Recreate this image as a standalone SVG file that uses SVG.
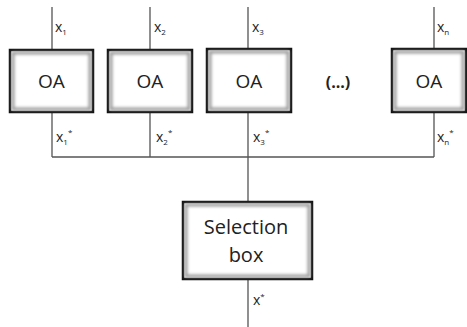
<svg xmlns="http://www.w3.org/2000/svg" width="467" height="327" viewBox="0 0 467 327">
<style>
.box{fill:#fff;stroke:#111;stroke-width:2.5}
.inner{fill:none;stroke:#999;stroke-width:3;filter:url(#blur)}
.line{stroke:#555;stroke-width:1.3;fill:none}
.lbl{font-family:"Open Sans","Liberation Sans",sans-serif;font-size:14px;fill:#222}
.sub{font-size:8px}
.oa{font-family:"Open Sans","Liberation Sans",sans-serif;font-size:19px;fill:#222;text-anchor:middle}
</style>
<defs>
<filter id="blur" x="-10%" y="-10%" width="120%" height="120%"><feGaussianBlur stdDeviation="1.5"/></filter>
</defs>
<g id="connectors">
<path class="line" d="M52 7V50M52 113V157M150 7V50M150 113V157M248 7V49M248 112V202M434 7V49M434 112V157M52 157H434M248 279V327"/>
</g>
<g id="oa1">
<rect class="box" x="10" y="50" width="83" height="62"/>
<rect class="inner" x="13" y="53" width="77" height="56"/>
<text class="oa" x="51.5" y="88">OA</text>
</g>
<g id="oa2">
<rect class="box" x="108" y="50" width="84" height="62"/>
<rect class="inner" x="111" y="53" width="78" height="56"/>
<text class="oa" x="150" y="88">OA</text>
</g>
<g id="oa3">
<rect class="box" x="207" y="49" width="84" height="63"/>
<rect class="inner" x="210" y="52" width="78" height="57"/>
<text class="oa" x="249" y="88">OA</text>
</g>
<g id="dots">
<text class="oa" x="338" y="88" style="font-size:16px;font-weight:bold">(...)</text>
</g>
<g id="oan">
<rect class="box" x="392" y="49" width="74" height="63"/>
<rect class="inner" x="395" y="52" width="68" height="57"/>
<text class="oa" x="429" y="88">OA</text>
</g>
<g id="selection">
<rect class="box" x="183" y="202" width="129" height="77"/>
<rect class="inner" x="186" y="205" width="123" height="71"/>
<text class="oa" x="246" y="234" style="font-size:20px">Selection</text>
<text class="oa" x="246" y="262" style="font-size:20px">box</text>
</g>
<g id="labels">
<text class="lbl" x="55" y="32">x<tspan class="sub" dy="3">1</tspan></text>
<text class="lbl" x="154" y="32">x<tspan class="sub" dy="3">2</tspan></text>
<text class="lbl" x="252" y="32">x<tspan class="sub" dy="3">3</tspan></text>
<text class="lbl" x="437" y="32">x<tspan class="sub" dy="3">n</tspan></text>
<text class="lbl" x="56" y="142">x<tspan class="sub" dy="3">1</tspan><tspan class="sub" dy="-10">*</tspan></text>
<text class="lbl" x="156" y="142">x<tspan class="sub" dy="3">2</tspan><tspan class="sub" dy="-10">*</tspan></text>
<text class="lbl" x="253" y="142">x<tspan class="sub" dy="3">3</tspan><tspan class="sub" dy="-10">*</tspan></text>
<text class="lbl" x="437" y="142">x<tspan class="sub" dy="3">n</tspan><tspan class="sub" dy="-10">*</tspan></text>
<text class="lbl" x="253" y="305">x<tspan class="sub" dy="-6">*</tspan></text>
</g>
</svg>
